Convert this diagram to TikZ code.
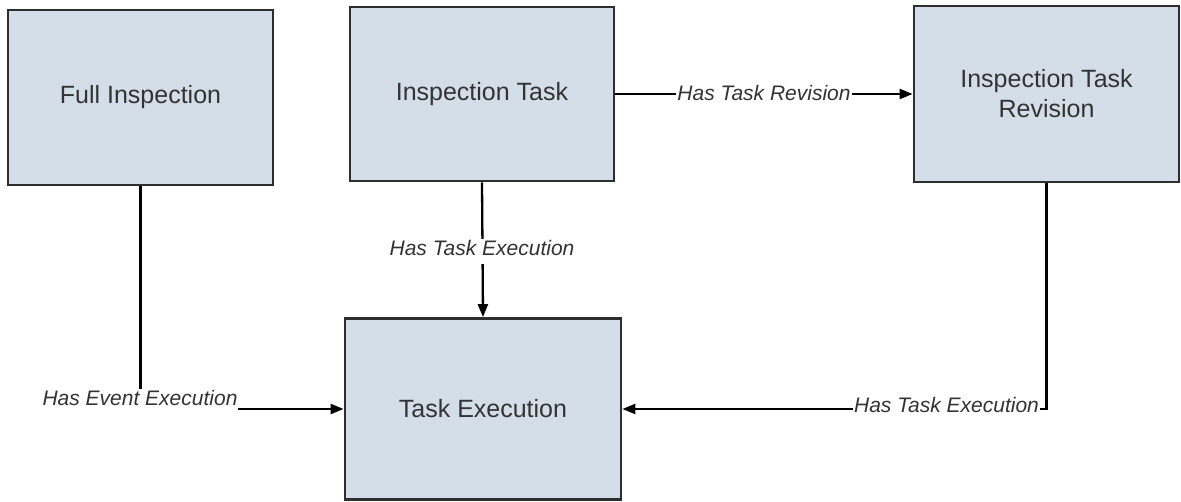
\documentclass[tikz,border=0pt]{standalone}
\usepackage{fontspec}
\setmainfont{Liberation Sans}
\usetikzlibrary{arrows.meta}
\definecolor{boxfill}{HTML}{D4DEE8}
\definecolor{boxline}{HTML}{2E2E2E}
\definecolor{txt}{HTML}{333333}
\tikzset{
  entity/.style={draw=boxline, line width=2.8pt, fill=boxfill, text=txt,
    font=\fontsize{25}{30}\selectfont, align=center, inner sep=0pt},
  conn/.style={draw=black, line width=2.3pt},
  arr/.style={conn, -{Triangle[length=13pt,width=10pt]}},
  lbl/.style={fill=white, text=txt, font=\fontsize{21}{24}\itshape\selectfont,
    inner sep=1pt, text height=16pt, text depth=7pt, anchor=base}
}
\begin{document}
\begin{tikzpicture}[x=1pt,y=-1pt]
\useasboundingbox (0,0) rectangle (1181,502);
\node[entity, minimum width=265pt, minimum height=175pt] (full) at (140.5,97.5) {Full Inspection};
\node[entity, minimum width=264pt, minimum height=174pt] (task) at (482,94) {Inspection Task};
\node[entity, minimum width=265pt, minimum height=176pt] (rev) at (1046.5,94) {Inspection Task\\Revision};
\node[entity, minimum width=276pt, minimum height=181pt] (exec) at (483,409) {Task Execution};

\coordinate (fullc) at (full.south |- exec.west);
\coordinate (revc) at (rev.south |- exec.east);

\draw[arr] (full.south) -- (fullc) -- (exec.west);
\draw[arr] (task.south) -- (exec.north);
\draw[arr] (task.east) -- (rev.west);
\draw[arr] (rev.south) -- (revc) -- (exec.east);

\node[lbl] (l1) at (140,406) {Has Event Execution};
\node[lbl] (l2) at (482,256) {Has Task Execution};
\node[lbl] (l3) at (764,101) {Has Task Revision};
\node[lbl] (l4) at (946.5,413) {Has Task Execution};
\end{tikzpicture}
\end{document}
